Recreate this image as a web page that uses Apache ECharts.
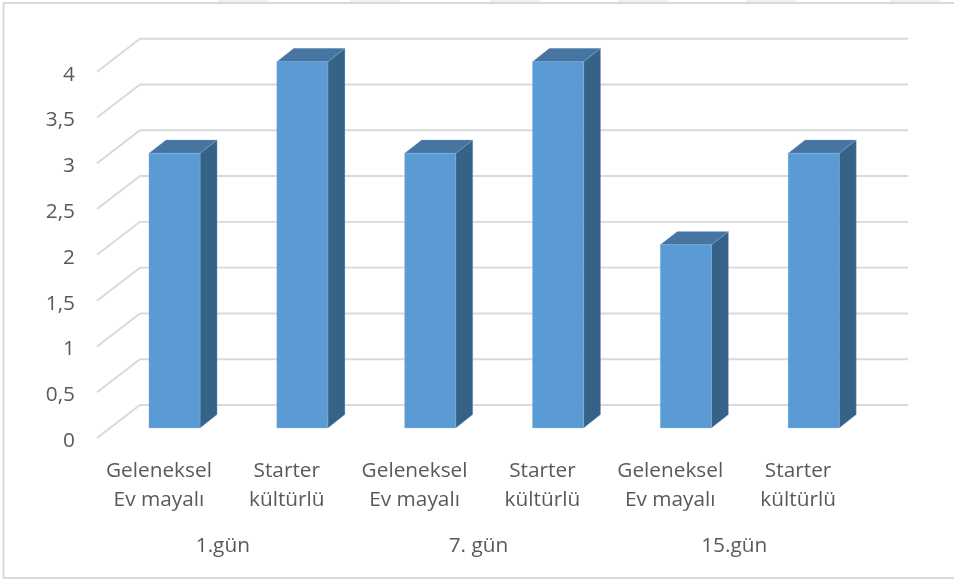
<!DOCTYPE html>
<html>
<head>
<meta charset="utf-8">
<style>html,body{margin:0;padding:0;background:#fff}#c{width:954px;height:579px}</style>
<script src="https://cdn.jsdelivr.net/npm/echarts@6/dist/echarts.min.js"></script>
</head>
<body>
<div id="c"></div>
<script>
// Fermentation scores per sample and day
const sampleLabels = ['Geleneksel\nEv mayalı', 'Starter\nkültürlü', 'Geleneksel\nEv mayalı', 'Starter\nkültürlü', 'Geleneksel\nEv mayalı', 'Starter\nkültürlü'];
const dayLabels = ['1.gün', '7. gün', '15.gün'];
const scores = [3, 4, 3, 4, 2, 3];
const wallTicks = [0, 0.5, 1, 1.5, 2, 2.5, 3, 3.5, 4];
const headerTabs = [218, 350, 490, 618, 746, 890];

const FONT = '"Open Sans"';
const TEXT = '#595959';

// Pseudo-3D depth offsets, measured from the front plane of the grid
const FLOOR_FRONT = [2, 0];
const WALL_BACK = [45, -33];
const WALL_EXTEND = 1;
const BAR_PLANE = [15.6, -10];
const BAR_DEPTH = [17, -13.4];
const BAR_RATIO = 0.4;

const chart = echarts.init(document.getElementById('c'), null, { renderer: 'canvas' });

function renderWall(params, api) {
  const v = api.value(0);
  const rect = params.coordSys;
  const y = api.coord([0, v])[1];
  return {
    type: 'polyline',
    shape: {
      points: [
        [rect.x + FLOOR_FRONT[0], y + FLOOR_FRONT[1]],
        [rect.x + WALL_BACK[0], y + WALL_BACK[1]],
        [rect.x + rect.width + WALL_BACK[0] + WALL_EXTEND, y + WALL_BACK[1]]
      ]
    },
    style: { stroke: '#d9d9d9', lineWidth: 1.9, fill: null }
  };
}

function renderBar(params, api) {
  const top = api.coord([api.value(0), api.value(1)]);
  const base = api.coord([api.value(0), 0]);
  const w = api.size([1, 0])[0] * BAR_RATIO;
  const x0 = top[0] - w / 2 + BAR_PLANE[0];
  const x1 = x0 + w;
  const yT = top[1] + BAR_PLANE[1];
  const yB = base[1] + BAR_PLANE[1];
  const dx = BAR_DEPTH[0], dy = BAR_DEPTH[1];
  const edge = 'rgba(140,185,228,0.45)';
  return {
    type: 'group',
    children: [
      { type: 'polygon', shape: { points: [[x1, yT], [x1 + dx, yT + dy], [x1 + dx, yB + dy], [x1, yB]] },
        style: { fill: '#376288', stroke: edge, lineWidth: 0.6 } },
      { type: 'polygon', shape: { points: [[x0, yT], [x0 + dx, yT + dy], [x1 + dx, yT + dy], [x1, yT]] },
        style: { fill: '#4675a1', stroke: edge, lineWidth: 0.6 } },
      { type: 'rect', shape: { x: x0, y: yT, width: w, height: yB - yT },
        style: { fill: '#5b9bd5', stroke: edge, lineWidth: 0.6 } }
    ]
  };
}

chart.setOption({
  animation: false,
  backgroundColor: '#fff',
  graphic: [
    // Frame around the plot, open past the right edge of the page
    {
      type: 'rect',
      silent: true,
      shape: { x: 3.5, y: 3, width: 960, height: 575 },
      style: { fill: null, stroke: '#d9d9d9', lineWidth: 2 }
    }
  ].concat(headerTabs.map(x => ({
    type: 'rect',
    silent: true,
    shape: { x: x, y: 0, width: 50, height: 2 },
    style: { fill: '#f1f1f1' }
  }))),
  grid: { left: 95, top: 71.7, width: 767, height: 366.3, containLabel: false },
  xAxis: [
    {
      type: 'category',
      data: sampleLabels,
      axisLine: { show: false },
      axisTick: { show: false },
      axisLabel: {
        interval: 0, margin: 19, fontFamily: FONT, fontSize: 20.8, color: TEXT, lineHeight: 29
      }
    },
    {
      type: 'category',
      position: 'bottom',
      offset: 94,
      data: dayLabels,
      axisLine: { show: false },
      axisTick: { show: false },
      axisLabel: { interval: 0, margin: 0, fontFamily: FONT, fontSize: 20.8, color: TEXT, lineHeight: 29 }
    }
  ],
  yAxis: {
    type: 'value',
    min: 0,
    max: 4,
    interval: 0.5,
    axisLine: { show: false },
    axisTick: { show: false },
    splitLine: { show: false },
    axisLabel: {
      margin: 20, fontFamily: FONT, fontSize: 20.8, color: TEXT,
      verticalAlign: 'top',
      lineHeight: 6,
      formatter: v => String(v).replace('.', ',')
    }
  },
  series: [
    {
      type: 'custom',
      coordinateSystem: 'cartesian2d',
      renderItem: renderWall,
      encode: { y: 0 },
      silent: true,
      z: 1,
      data: wallTicks.map(v => [v])
    },
    {
      type: 'custom',
      coordinateSystem: 'cartesian2d',
      renderItem: renderBar,
      encode: { x: 0, y: 1 },
      silent: true,
      z: 2,
      data: scores.map((v, i) => [i, v])
    }
  ]
});
</script>
</body>
</html>
